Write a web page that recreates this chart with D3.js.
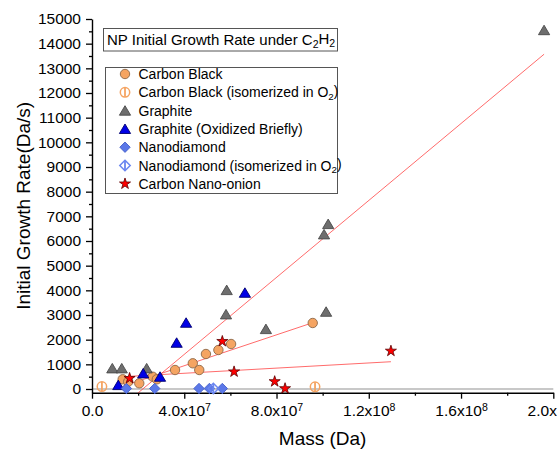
<!DOCTYPE html>
<html>
<head>
<meta charset="utf-8">
<script src="https://cdnjs.cloudflare.com/ajax/libs/d3/7.8.5/d3.min.js"></script>
<style>
  body { margin: 0; background: #fff; }
  svg { display: block; }
  text { font-family: Arial, "Liberation Sans", sans-serif; fill: #000; }
</style>
</head>
<body>
<svg id="chart" width="557" height="450"></svg>
<script>
// ---- Measurements: mass (Da) vs initial growth rate (Da/s) ----
const cbMass = [1.33e7, 1.57e7, 2.05e7, 2.63e7, 2.81e7, 3.60e7, 4.37e7, 4.65e7, 4.94e7, 5.48e7, 6.03e7, 9.57e7];
const cbRate = [393, 296, 231, 499, 393, 770, 1042, 770, 1419, 1581, 1824, 2676];

const cbIsoMass = [4.3e6, 9.67e7];
const cbIsoRate = [100, 90];

const grMass = [8.8e6, 1.29e7, 2.37e7, 5.84e7, 5.81e7, 7.54e7, 1.024e8, 1.006e8, 1.015e8, 1.96e8];
const grRate = [839, 839, 839, 4013, 3028, 2432, 6689, 6272, 3134, 14550];

const grOxMass = [1.14e7, 2.22e7, 2.95e7, 3.67e7, 4.08e7, 6.63e7];
const grOxRate = [162, 636, 499, 1877, 2688, 3904];

const ndMass = [1.49e7, 2.72e7, 4.64e7, 5.09e7, 5.65e7];
const ndRate = [20, 20, 20, 20, 20];

const ndIsoMass = [5.26e7];
const ndIsoRate = [20];

const cnoMass = [1.63e7, 5.65e7, 6.16e7, 7.92e7, 8.37e7, 1.296e8];
const cnoRate = [434, 1934, 701, 304, 20, 1541];

// Linear fits: rate = slope * mass + intercept, drawn over [from, to]
const fitSeries    = ["Graphite", "Carbon Black", "Carbon Nano-onion"];
const fitSlope     = [7.8e-5, 3.13e-5, 5.22e-6];
const fitIntercept = [-1716, -308, 429];
const fitFrom      = [8.8e6, 1.33e7, 1.63e7];
const fitTo        = [1.96e8, 9.57e7, 1.296e8];

// Axis ticks
const xTicks = [0, 4e7, 8e7, 1.2e8, 1.6e8, 2e8];
const xTickLabels = ["0.0", "4.0x10^7", "8.0x10^7", "1.2x10^8", "1.6x10^8", "2.0x10^8"];
const xMinorTicks = [2e7, 6e7, 1e8, 1.4e8, 1.8e8];
const yTicks = d3.range(0, 15001, 1000);
const yMinorTicks = d3.range(500, 15000, 1000);

const legendTitle = "NP Initial Growth Rate under C_2H_2";
const legendLabels = [
  "Carbon Black",
  "Carbon Black (isomerized in O_2)",
  "Graphite",
  "Graphite (Oxidized Briefly)",
  "Nanodiamond",
  "Nanodiamond (isomerized in O_2)",
  "Carbon Nano-onion"
];

// ---- Layout ----
const svg = d3.select("#chart");
const plot = { left: 92, right: 553.3, top: 19, bottom: 392.7 };

const x = d3.scaleLinear().domain([0, 2e8]).range([plot.left, plot.right]);
const y = d3.scaleLinear().domain([-150, 15000]).range([plot.bottom, plot.top]);

svg.append("rect").attr("width", 557).attr("height", 450).attr("fill", "#fff");

svg.append("defs").append("clipPath").attr("id", "plotClip")
  .append("rect")
  .attr("x", plot.left).attr("y", plot.top)
  .attr("width", plot.right - plot.left).attr("height", plot.bottom - plot.top);

// zero reference line
svg.append("line")
  .attr("x1", x(0)).attr("x2", x(2e8))
  .attr("y1", y(0)).attr("y2", y(0))
  .attr("stroke", "#c8c8c8").attr("stroke-width", 2);

// ---- Marker shapes ----
const shapes = {
  triangle: { draw(ctx) { ctx.moveTo(0, -4.9); ctx.lineTo(5.6, 4.6); ctx.lineTo(-5.6, 4.6); ctx.closePath(); } },
  diamond:  { draw(ctx) { ctx.moveTo(0, -5.2); ctx.lineTo(5.2, 0); ctx.lineTo(0, 5.2); ctx.lineTo(-5.2, 0); ctx.closePath(); } },
  circle:   d3.symbolCircle,
  star:     d3.symbolStar
};
const sizes = { triangle: 1, diamond: 1, circle: Math.PI * 4.7 * 4.7, star: 38 };

const styles = [
  { shape: "circle",   fill: "#f5a462", stroke: "#8c6848", sw: 0.9, bar: false },
  { shape: "circle",   fill: "none",    stroke: "#f5a462", sw: 1.5, bar: true },
  { shape: "triangle", fill: "#6e6e6e", stroke: "#4a4a4a", sw: 0.9, bar: false },
  { shape: "triangle", fill: "#0000e6", stroke: "#00006e", sw: 0.9, bar: false },
  { shape: "diamond",  fill: "#5b78e8", stroke: "#4560c8", sw: 0.9, bar: false },
  { shape: "diamond",  fill: "none",    stroke: "#6a86f0", sw: 1.5, bar: true },
  { shape: "star",     fill: "#ff0000", stroke: "#5a0000", sw: 0.8, bar: false }
];

const seriesData = [
  [cbMass, cbRate], [cbIsoMass, cbIsoRate], [grMass, grRate], [grOxMass, grOxRate],
  [ndMass, ndRate], [ndIsoMass, ndIsoRate], [cnoMass, cnoRate]
];

function drawMarker(g, st, cx, cy) {
  const m = g.append("g").attr("transform", `translate(${cx},${cy})`);
  m.append("path")
    .attr("d", d3.symbol().type(shapes[st.shape]).size(sizes[st.shape])())
    .attr("fill", st.fill).attr("stroke", st.stroke).attr("stroke-width", st.sw);
  if (st.bar) {
    m.append("line").attr("x1", 0).attr("x2", 0).attr("y1", -4.5).attr("y2", 4.5)
      .attr("stroke", st.stroke).attr("stroke-width", 1.8);
  }
}

// ---- Axes ----
const axisColor = "#000";
const yAxis = svg.append("g").attr("transform", `translate(${plot.left},0)`)
  .call(d3.axisLeft(y).tickValues(yTicks).tickSize(6).tickSizeOuter(0).tickPadding(5)
    .tickFormat(d3.format("d")));
svg.append("g").attr("transform", `translate(${plot.left},0)`)
  .call(d3.axisLeft(y).tickValues(yMinorTicks).tickSize(3).tickSizeOuter(0).tickFormat(""))
  .select(".domain").remove();

const xAxis = svg.append("g").attr("transform", `translate(0,${plot.bottom})`)
  .call(d3.axisBottom(x).tickValues(xTicks).tickSize(6).tickSizeOuter(0).tickPadding(6)
    .tickFormat((d, i) => xTickLabels[i]));
svg.append("g").attr("transform", `translate(0,${plot.bottom})`)
  .call(d3.axisBottom(x).tickValues(xMinorTicks).tickSize(3).tickSizeOuter(0).tickFormat(""))
  .select(".domain").remove();

svg.selectAll(".domain").attr("stroke", axisColor).attr("stroke-width", 1.4);
svg.selectAll(".tick line").attr("stroke", axisColor).attr("stroke-width", 1.3);
yAxis.selectAll("text").attr("font-size", 15.5).attr("font-family", "Arial, 'Liberation Sans', sans-serif");

// superscript exponents on mass tick labels
xAxis.selectAll(".tick text").each(function (d, i) {
  const t = d3.select(this);
  const parts = xTickLabels[i].split("^");
  t.text(parts[0]).attr("font-size", 15.5).attr("font-family", "Arial, 'Liberation Sans', sans-serif");
  if (parts[1]) {
    t.append("tspan").attr("dy", "-0.45em").attr("font-size", "0.68em").text(parts[1]);
  }
});

// axis titles
svg.append("text")
  .attr("x", (plot.left + plot.right) / 2).attr("y", 445)
  .attr("text-anchor", "middle").attr("font-size", 19)
  .text("Mass (Da)");
svg.append("text")
  .attr("transform", `translate(30,${(plot.top + plot.bottom) / 2}) rotate(-90)`)
  .attr("text-anchor", "middle").attr("font-size", 19)
  .text("Initial Growth Rate(Da/s)");

// ---- Fit lines ----
const fitG = svg.append("g").attr("clip-path", "url(#plotClip)");
const line = d3.line().x(d => x(d[0])).y(d => y(d[1]));

// ---- Data markers ----
const markG = svg.append("g");
seriesData.forEach((sd, si) => {
  sd[0].forEach((mass, i) => drawMarker(markG, styles[si], x(mass), y(sd[1][i])));
});

fitSeries.forEach((name, i) => {
  const pts = [fitFrom[i], fitTo[i]].map(m => [m, fitSlope[i] * m + fitIntercept[i]]);
  fitG.append("path").attr("d", line(pts))
    .attr("fill", "none").attr("stroke", "#ff3a3a").attr("stroke-opacity", 0.75).attr("stroke-width", 1);
});

// ---- Legend ----
function subText(sel, str) {
  const parts = str.split(/_(\d)/);
  parts.forEach((p, k) => {
    if (k % 2 === 1) {
      sel.append("tspan").attr("dy", "0.3em").attr("font-size", "0.7em").text(p);
    } else if (p.length) {
      sel.append("tspan").attr("dy", k > 0 ? "-0.3em" : null).text(p);
    }
  });
}

svg.append("rect").attr("x", 103.5).attr("y", 28.5).attr("width", 234).attr("height", 22.5)
  .attr("fill", "#fff").attr("stroke", "#555").attr("stroke-width", 1);
subText(svg.append("text").attr("x", 107).attr("y", 45).attr("font-size", 15), legendTitle);

svg.append("rect").attr("x", 105.5).attr("y", 67.5).attr("width", 232).attr("height", 126)
  .attr("fill", "#fff").attr("stroke", "#555").attr("stroke-width", 1);
legendLabels.forEach((lab, i) => {
  const ly = 74 + i * 18.3;
  drawMarker(svg, styles[i], 125, ly);
  subText(svg.append("text").attr("x", 138.5).attr("y", ly + 5).attr("font-size", 14), lab);
});
</script>
</body>
</html>
